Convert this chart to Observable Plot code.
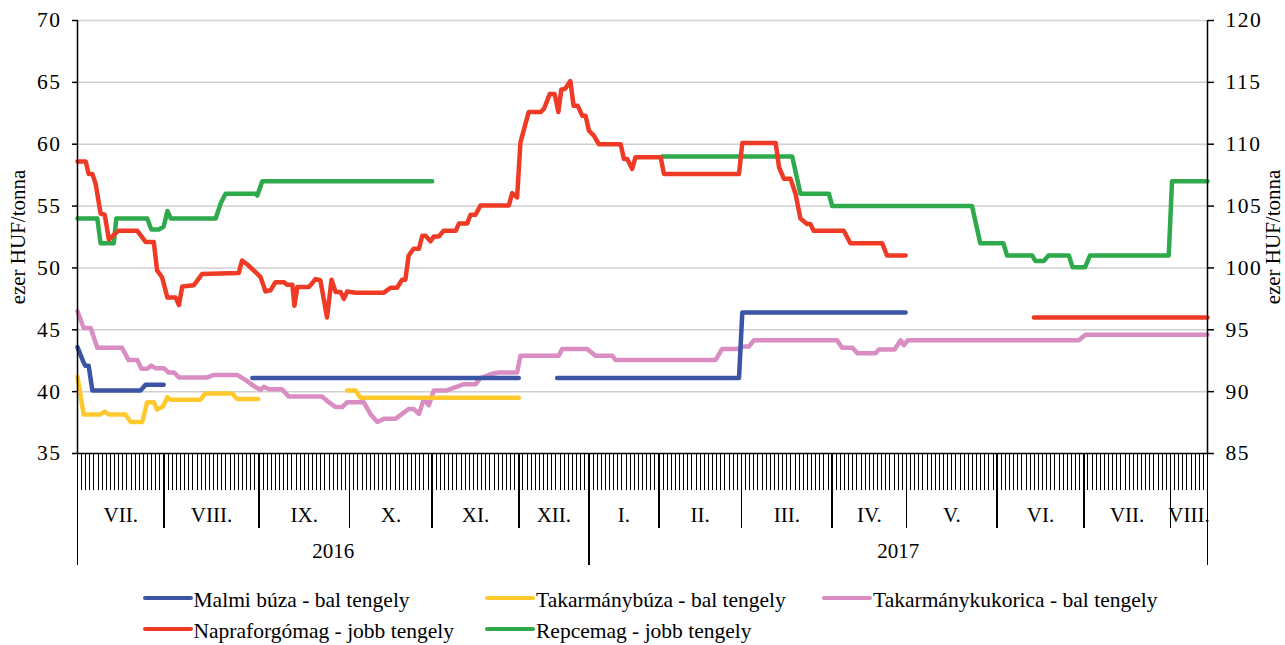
<!DOCTYPE html>
<html><head><meta charset="utf-8">
<script src="https://cdn.jsdelivr.net/npm/d3@7"></script>
<script src="https://cdn.jsdelivr.net/npm/@observablehq/plot@0.6"></script>
<style>
body{margin:0;background:#fff;font-family:"Liberation Serif","Times New Roman",serif;}
#wrap{position:relative;width:1285px;height:645px;overflow:hidden;background:#fff;}
#chart svg{display:block;}
g[aria-label="x-axis tick"]{shape-rendering:crispEdges;}
g[aria-label="y-axis tick label"] text{letter-spacing:1.5px;}
.leg{position:absolute;display:flex;align-items:center;font-size:21.5px;line-height:24px;white-space:nowrap;color:#000;transform:translateY(-50%);}
.leg span{position:relative;top:2px;}
.sw{width:50px;height:4.5px;border-radius:2.5px;margin-right:1px;}
</style></head><body><div id="wrap"><div id="chart"></div><div id="legend"></div></div>
<script>
// ---- axis / category data ----
const dayCount = 274;                       // number of daily quotes on the axis
const monthLabels = ["VII.","VIII.","IX.","X.","XI.","XII.","I.","II.","III.","IV.","V.","VI.","VII.","VIII."];
const monthStarts = [0,21,44,66,86,107,124,141,161,183,201,223,244,265];
const yearLabels = ["2016","2017"];
const yearStarts = [0,124];
const leftTicks = [35,40,45,50,55,60,65,70];
const axisOffset = 50;                       // right axis = left axis + 50

// ---- series (x = day index, y = value; null = gap) ----
const malmiX = [0,1.3,1.9,2.7,3.6,15.3,16.5,20.9,null,42.4,107.0,null,116.3,160.4,161.2,200.8];
const malmiY = [43.6,42.5,42.1,42.1,40.1,40.1,40.55,40.55,null,41.1,41.1,null,41.1,41.1,46.4,46.4];

const takbuzaX = [0,1.5,5.6,6.6,7.6,11.6,12.9,15.7,16.9,18.5,19.3,20.7,21.8,22.6,29.8,31.0,37.5,38.7,43.8,null,65.4,67.4,68.6,107.0];
const takbuzaY = [41.2,38.15,38.15,38.4,38.15,38.15,37.55,37.55,39.15,39.15,38.55,38.8,39.55,39.35,39.35,39.85,39.85,39.4,39.4,null,40.1,40.1,39.5,39.5];

const kukoricaX = [0,1.5,3.2,4.8,10.8,12.4,14.5,15.5,16.9,17.9,18.9,20.9,22.1,23.4,24.6,31.5,33.1,38.7,40.7,43.2,44.4,45.2,46.4,49.6,51.2,59.3,60.9,62.6,64.2,65.4,69.4,71.0,72.7,74.3,77.1,78.7,80.3,81.5,82.8,84.0,85.2,86.4,89.6,91.2,93.7,96.5,97.7,100.6,102.2,106.6,107.4,116.7,117.5,123.6,125.6,129.7,130.5,154.7,156.3,160.0,161.6,162.8,164.0,184.2,185.4,187.9,189.1,193.5,194.3,198.1,199.6,200.4,201.3,242.8,244.4,274];
const kukoricaY = [46.5,45.15,45.15,43.55,43.55,42.55,42.55,41.85,41.85,42.1,41.9,41.9,41.55,41.55,41.15,41.15,41.35,41.35,40.95,40.35,40.15,40.4,40.2,40.2,39.6,39.6,39.15,38.75,38.75,39.15,39.15,38.2,37.55,37.8,37.8,38.2,38.6,38.6,38.2,39.4,38.9,40.1,40.1,40.3,40.6,40.6,41.1,41.45,41.55,41.55,42.9,42.9,43.45,43.45,42.9,42.9,42.55,42.55,43.45,43.45,43.65,43.65,44.15,44.15,43.55,43.55,43.1,43.1,43.4,43.4,44.15,43.75,44.15,44.15,44.6,44.6];

const napraX = [0,2,2.7,3.6,4.4,5.6,6.6,7.6,9.9,14.5,16.5,18.5,19.3,20.5,21.8,23.8,24.6,25.4,28.2,30.2,39.1,39.9,41.1,43.2,44.4,45.6,46.8,48,50,50.8,52.1,52.6,53.3,56.1,57.7,58.9,60.5,61.6,62.6,63.8,64.6,65.4,67.4,74.3,75.9,77.5,78.7,79.5,80.3,81.5,82.8,83.6,84.4,85.6,86.4,87.6,88.8,91.7,92.5,94.5,95.3,96.5,97.7,104.6,105.4,106.6,107.4,109.4,112.3,113.1,114.5,115.7,116.6,117.3,118.3,119.5,120.3,121.3,122.4,123.2,124,125.2,126.4,131.7,132.5,133.3,134.5,135.3,141.4,142.2,160.4,161.2,169.3,170.1,171.3,172.9,174.1,175.3,176.9,177.7,178.5,185.8,187.4,195.1,196.3,200.8,null,231.9,274];
const napraY = [108.6,108.6,107.6,107.6,106.8,104.4,104.3,102.3,103,103,102.1,102.1,99.8,99.25,97.6,97.6,97.0,98.5,98.6,99.5,99.6,100.6,100.3,99.65,99.25,98.1,98.2,98.85,98.85,98.65,98.65,96.95,98.45,98.45,99.1,99.0,96.0,99.05,98.05,98.05,97.5,98.1,98.0,98.0,98.4,98.4,99.05,99.05,101.0,101.55,101.55,102.6,102.6,102.15,102.55,102.55,103.0,103.0,103.6,103.6,104.3,104.3,105.05,105.05,106.05,105.7,110.15,112.6,112.6,112.85,114.05,114.05,112.6,114.4,114.5,115.1,113.1,113.1,112.3,112.3,111.1,110.7,110.0,110.0,108.8,108.8,108.0,108.95,108.95,107.6,107.6,110.1,110.1,108.15,107.2,107.2,106.0,104.0,103.55,103.55,103.0,103.0,102.0,102.0,101.0,101.0,null,96,96];

const repceX = [0,4.8,5.6,8.8,9.4,16.9,17.9,19.7,20.9,21.8,22.6,33.5,34.7,35.9,43.2,43.6,44.8,86.0,null,141.8,173.3,175.3,182.2,183.0,216.9,218.9,224.5,225.4,231.5,232.3,234.3,235.4,240.4,241.3,244.3,245.5,264.6,265.4,274];
const repceY = [104,104,102,102,104,104,103.1,103.1,103.35,104.6,104,104,105.2,106,106,105.85,107,107,null,109,109,106,106,105,105,102,102,101,101,100.55,100.55,101,101,100.05,100.05,101,101,107,107];

const seriesNames = ["Malmi búza - bal tengely","Takarmánybúza - bal tengely","Takarmánykukorica - bal tengely","Napraforgómag - jobb tengely","Repcemag - jobb tengely"];
const seriesColors = ["#3B54A4","#FFC92E","#D98DC2","#EF3A25","#2EA94B"];

// ---- build tables ----
function pts(xs, ys, shift){
  return xs.map((x,i)=>({x: x==null?NaN:x, y: ys[i]==null?NaN:ys[i]-shift}));
}
const series = [
  pts(malmiX, malmiY, 0),
  pts(takbuzaX, takbuzaY, 0),
  pts(kukoricaX, kukoricaY, 0),
  pts(napraX, napraY, axisOffset),
  pts(repceX, repceY, axisOffset)
];
const monthEnds = monthStarts.slice(1).concat([dayCount]);
const months = monthLabels.map((m,i)=>({label:m, c:(monthStarts[i]+monthEnds[i])/2}));
const yearEnds = yearStarts.slice(1).concat([dayCount]);
const years = yearLabels.map((y,i)=>({label:y, c:(yearStarts[i]+yearEnds[i])/2}));
const monthDividers = monthStarts.filter(s => !yearStarts.includes(s));
const yearDividers = yearStarts.concat([dayCount]);

const drawOrder = [2,1,0,4,3];
const font = "Liberation Serif, Times New Roman, serif";

const chart = Plot.plot({
  width:1285, height:580,
  marginLeft:77, marginRight:78, marginTop:20, marginBottom:127,
  x:{domain:[0,dayCount], axis:null},
  y:{domain:[35,70], axis:null},
  style:{fontFamily:font, fontSize:"21px", color:"#000", background:"#fff", overflow:"visible"},
  marks:[
    Plot.gridY({ticks:leftTicks.filter(t=>t>35), stroke:"#d0d0d0", strokeOpacity:1, strokeWidth:1.5}),
    // daily ticks
    Plot.axisX({ticks:d3.range(0,dayCount+1), tickSize:37, tickFormat:()=> "", stroke:"#000", strokeWidth:1, strokeOpacity:1}),
    // month dividers
    Plot.axisX({ticks:monthDividers, tickSize:75, tickFormat:()=> "", strokeWidth:1.5, strokeOpacity:1}),
    // year dividers
    Plot.axisX({ticks:yearDividers, tickSize:112, tickFormat:()=> "", strokeWidth:1.5, strokeOpacity:1}),
    Plot.text(months, {x:"c", text:"label", frameAnchor:"bottom", dy:68, fontSize:21}),
    Plot.text(years, {x:"c", text:"label", frameAnchor:"bottom", dy:104, fontSize:21}),
    // left and right axes
    Plot.axisY({ticks:leftTicks, anchor:"left", tickSize:5, tickPadding:11, label:null, fontSize:21.5, strokeWidth:1.5, strokeOpacity:1}),
    Plot.axisY({ticks:leftTicks, anchor:"right", tickSize:6, tickPadding:12, label:null, fontSize:21.5, tickFormat:d=>String(d+axisOffset), strokeWidth:1.5, strokeOpacity:1}),
    Plot.text(["ezer HUF/tonna"], {frameAnchor:"left", textAnchor:"middle", dx:-59, rotate:-90, fontSize:21}),
    Plot.text(["ezer HUF/tonna"], {frameAnchor:"right", textAnchor:"middle", dx:66, rotate:-90, fontSize:21}),
    ...drawOrder.map(k => Plot.line(series[k], {x:"x", y:"y", stroke:seriesColors[k], strokeWidth:4.5, strokeLinejoin:"round", strokeLinecap:"round"})),
    Plot.ruleX([0,dayCount], {y1:35, y2:70, stroke:"#000", strokeWidth:1.5}),
    Plot.ruleY([35], {stroke:"#000", strokeWidth:1.5})
  ]
});
document.getElementById("chart").appendChild(chart);

// ---- legend (below the SVG area) ----
const legendPos = [[142.5,598],[485,598],[822,598],[142.5,629],[485,629]];
const legend = document.getElementById("legend");
seriesNames.forEach((name,i)=>{
  const d = document.createElement("div");
  d.className = "leg";
  d.style.left = legendPos[i][0] + "px";
  d.style.top = legendPos[i][1] + "px";
  const sw = document.createElement("div");
  sw.className = "sw";
  sw.style.background = seriesColors[i];
  const t = document.createElement("span");
  t.textContent = name;
  d.appendChild(sw); d.appendChild(t);
  legend.appendChild(d);
});
</script>
</body></html>
